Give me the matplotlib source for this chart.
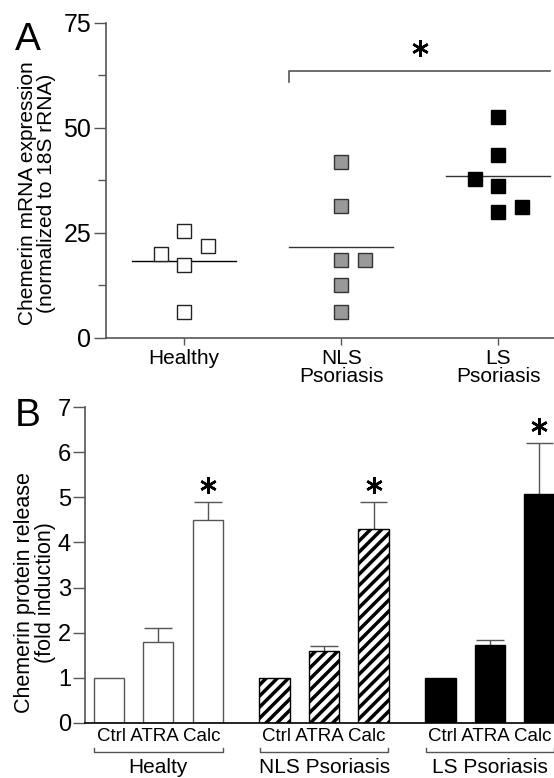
import numpy as np
import matplotlib
matplotlib.use("Agg")
import matplotlib.pyplot as plt

plt.rcParams['font.family'] = ['Liberation Sans', 'DejaVu Sans']
plt.rcParams['hatch.linewidth'] = 2.5

AXC = '#555555'
STAR = (6, 2, 0)

# Panel A: chemerin mRNA expression, individual samples
groups_a = ['Healthy', 'NLS\nPsoriasis', 'LS\nPsoriasis']
healthy_vals = [20.0, 25.5, 21.9, 17.4, 6.2]
healthy_offs = [-0.15, 0.0, 0.15, 0.0, 0.0]
nls_vals = [41.9, 31.4, 18.6, 18.6, 12.6, 6.2]
nls_offs = [0.0, 0.0, 0.0, 0.15, 0.0, 0.0]
ls_vals = [52.6, 43.6, 37.9, 36.2, 30.0, 31.2]
ls_offs = [0.0, 0.0, -0.15, 0.0, 0.0, 0.15]
medians_a = [18.3, 21.7, 38.6]

# Panel B: chemerin protein release
treatments = 'Ctrl ATRA Calc'
groups_b = ['Healty', 'NLS Psoriasis', 'LS Psoriasis']
means_b = [[1.0, 1.8, 4.5], [1.0, 1.6, 4.3], [1.0, 1.73, 5.08]]
errs_b = [[0.0, 0.3, 0.4], [0.0, 0.1, 0.6], [0.0, 0.11, 1.12]]

fig = plt.figure(figsize=(5.54, 7.78), dpi=100)

# ---------- Panel A ----------
axA = fig.add_axes([0.191, 0.5656, 0.850, 0.405])
face = ['white', '#999999', 'black']
edge = ['#222222', '#333333', 'black']
for i, (vals, offs) in enumerate([(healthy_vals, healthy_offs),
                                  (nls_vals, nls_offs),
                                  (ls_vals, ls_offs)]):
    x = np.array(offs) + i + 1
    axA.plot(x, vals, 's', ms=9.8, mfc=face[i], mec=edge[i], mew=1.0,
             linestyle='none', clip_on=False, zorder=3)
    axA.plot([i + 1 - 0.33, i + 1 + 0.33], [medians_a[i]] * 2,
             color='black' if i == 0 else '#333333', lw=1.0, zorder=2)

axA.set_xlim(0.5, 3.5)
axA.set_ylim(0, 75)
axA.set_yticks([0, 25, 50, 75])
axA.set_yticks([12.5, 37.5, 62.5], minor=True)
axA.set_xticks([1, 2, 3])
axA.set_xticklabels(groups_a, fontsize=15, linespacing=0.92)
axA.tick_params(axis='y', labelsize=18, length=9, width=1, color=AXC, pad=1.5)
axA.tick_params(axis='y', which='minor', length=6, width=1, color=AXC)
axA.tick_params(axis='x', length=5, width=1, color=AXC, pad=3)
for s in ['top', 'right']:
    axA.spines[s].set_visible(False)
for s in ['left', 'bottom']:
    axA.spines[s].set_color(AXC)
    axA.spines[s].set_linewidth(1.2)

# significance bracket
axA.plot([2 - 0.33, 2 - 0.33, 3 + 0.33], [61.0, 63.6, 63.6],
         color=AXC, lw=1.2, clip_on=False)
axA.plot([2.5], [69.0], marker=STAR, ms=12, mew=1.8, color='black',
         clip_on=False)

fig.text(0.067, 0.752, 'Chemerin mRNA expression\n(normalized to 18S rRNA)',
         rotation=90, ha='center', va='center', fontsize=15, linespacing=1.0)
fig.text(0.027, 0.972, 'A', fontsize=28, ha='left', va='top')

# ---------- Panel B ----------
axB = fig.add_axes([0.1534, 0.0707, 0.865, 0.406])
gap = 3.35
w = 0.61
hatches = ['', '///', '']
bfaces = ['white', 'white', 'black']
bedges = [AXC, 'black', 'black']
for g in range(3):
    pos = g * gap + np.arange(3)
    axB.bar(pos, means_b[g], width=w, color=bfaces[g], edgecolor=bedges[g],
            hatch=hatches[g], linewidth=1.0, zorder=2)
    for j in range(3):
        if errs_b[g][j] > 0:
            top = means_b[g][j] + errs_b[g][j]
            axB.vlines(pos[j], means_b[g][j], top, color=AXC, lw=1.0, zorder=1)
            axB.hlines(top, pos[j] - 0.28, pos[j] + 0.28, color=AXC, lw=1.0,
                       zorder=1)
    # star over Calc
    top = means_b[g][2] + errs_b[g][2]
    axB.plot([pos[2]], [top + 0.38], marker=STAR, ms=12, mew=1.8,
             color='black', clip_on=False)
    # treatment labels and group bracket below axis
    axB.text(pos[1], -0.31, treatments, ha='center', va='center',
             fontsize=13.5)
    x0, x1 = pos[0] - 0.3, pos[2] + 0.3
    axB.plot([x0, x0, x1, x1], [-0.55, -0.64, -0.64, -0.55], color=AXC,
             lw=1.0, clip_on=False)
    axB.text((x0 + x1) / 2, -0.99, groups_b[g], ha='center', va='center',
             fontsize=15)

axB.set_xticks([])
axB.set_xlim(-0.48, 9.2)
axB.set_ylim(0, 7)
axB.set_yticks(range(8))
axB.tick_params(axis='y', labelsize=17, length=9, width=1, color=AXC, pad=1)
for s in ['top', 'right']:
    axB.spines[s].set_visible(False)
axB.spines['left'].set_color(AXC)
axB.spines['left'].set_linewidth(1.2)
axB.spines['bottom'].set_color('black')
axB.spines['bottom'].set_linewidth(1.2)

fig.text(0.064, 0.238, 'Chemerin protein release\n(fold induction)',
         rotation=90, ha='center', va='center', fontsize=15.5, linespacing=1.0)
fig.text(0.027, 0.489, 'B', fontsize=28, ha='left', va='top')

fig.savefig('out.png', dpi=100)
